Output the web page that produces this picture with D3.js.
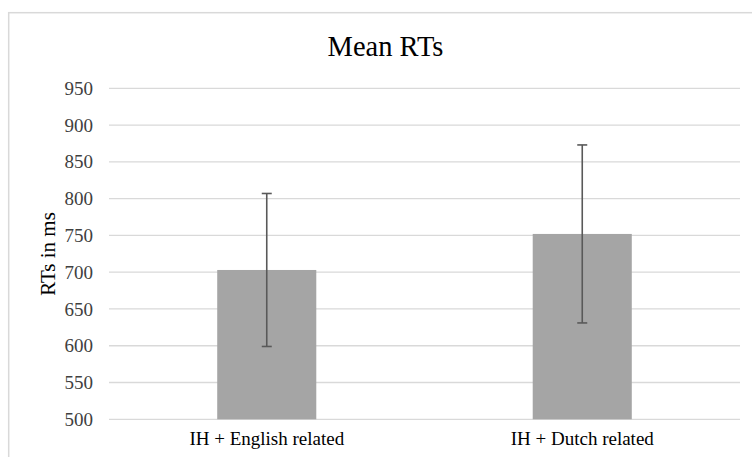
<!DOCTYPE html>
<html>
<head>
<meta charset="utf-8">
<script src="https://cdn.jsdelivr.net/npm/d3@7"></script>
<style>
  html, body { margin: 0; padding: 0; background: #fff; }
  svg text { font-family: 'Liberation Serif', 'Times New Roman', serif; }
</style>
</head>
<body>
<div id="chart"></div>
<script>
// chart values
const categories = ['IH + English related', 'IH + Dutch related']
const meanRT = [703, 752]
const errorRT = [104, 121]
const yTicks = [500, 550, 600, 650, 700, 750, 800, 850, 900, 950]

const width = 752
const height = 457
const margin = { top: 88.3, right: 12, bottom: 37.7, left: 109 }

const svg = d3.select('#chart')
  .append('svg')
  .attr('width', width)
  .attr('height', height)

// chart area frame (only top and left edges are visible in the picture)
svg.append('rect')
  .attr('x', 8.7)
  .attr('y', 12.7)
  .attr('width', width + 20)
  .attr('height', height + 20)
  .attr('fill', 'none')
  .attr('stroke', '#d9d9d9')
  .attr('stroke-width', 1.5)

const x = d3.scaleBand()
  .domain(categories)
  .range([margin.left, width - margin.right])
  .paddingInner(0.686)
  .paddingOuter(0.343)

const y = d3.scaleLinear()
  .domain([500, 950])
  .range([height - margin.bottom, margin.top])

// gridlines
svg.append('g')
  .selectAll('line')
  .data(yTicks)
  .join('line')
  .attr('x1', margin.left)
  .attr('x2', width - margin.right)
  .attr('y1', d => y(d))
  .attr('y2', d => y(d))
  .attr('stroke', '#d9d9d9')
  .attr('stroke-width', 1.3)

// y axis labels
const yAxis = d3.axisLeft(y).tickValues(yTicks).tickSize(0).tickPadding(16)
svg.append('g')
  .attr('transform', `translate(${margin.left},0)`)
  .call(yAxis)
  .attr('font-family', null)
  .attr('font-size', null)
  .call(g => g.select('.domain').remove())
  .call(g => g.selectAll('text')
    .style('font-size', '19px')
    .attr('fill', '#404040'))

// bars
svg.append('g')
  .selectAll('rect')
  .data(categories)
  .join('rect')
  .attr('x', d => x(d))
  .attr('width', x.bandwidth())
  .attr('y', (d, i) => y(meanRT[i]))
  .attr('height', (d, i) => y(500) - y(meanRT[i]))
  .attr('fill', '#a5a5a5')

// error bars
const err = svg.append('g')
  .attr('stroke', '#595959')
  .attr('stroke-width', 1.6)
  .selectAll('g')
  .data(categories)
  .join('g')
  .attr('transform', d => `translate(${x(d) + x.bandwidth() / 2},0)`)

err.append('line')
  .attr('y1', (d, i) => y(meanRT[i] + errorRT[i]))
  .attr('y2', (d, i) => y(meanRT[i] - errorRT[i]))
err.append('line')
  .attr('x1', -5).attr('x2', 5)
  .attr('y1', (d, i) => y(meanRT[i] + errorRT[i]))
  .attr('y2', (d, i) => y(meanRT[i] + errorRT[i]))
err.append('line')
  .attr('x1', -5).attr('x2', 5)
  .attr('y1', (d, i) => y(meanRT[i] - errorRT[i]))
  .attr('y2', (d, i) => y(meanRT[i] - errorRT[i]))

// category labels
const xAxis = d3.axisBottom(x).tickSize(0).tickPadding(12)
svg.append('g')
  .attr('transform', `translate(0,${y(500)})`)
  .call(xAxis)
  .attr('font-family', null)
  .attr('font-size', null)
  .call(g => g.select('.domain').remove())
  .call(g => g.selectAll('text')
    .style('font-size', '19px')
    .attr('fill', '#000'))

// title
svg.append('text')
  .attr('x', 385.5)
  .attr('y', 55.7)
  .attr('text-anchor', 'middle')
  .style('font-size', '28.5px')
  .attr('fill', '#000')
  .text('Mean RTs')

// y axis title
svg.append('text')
  .attr('transform', `translate(55,${254}) rotate(-90)`)
  .attr('text-anchor', 'middle')
  .style('font-size', '21px')
  .attr('fill', '#000')
  .text('RTs in ms')
</script>
</body>
</html>
